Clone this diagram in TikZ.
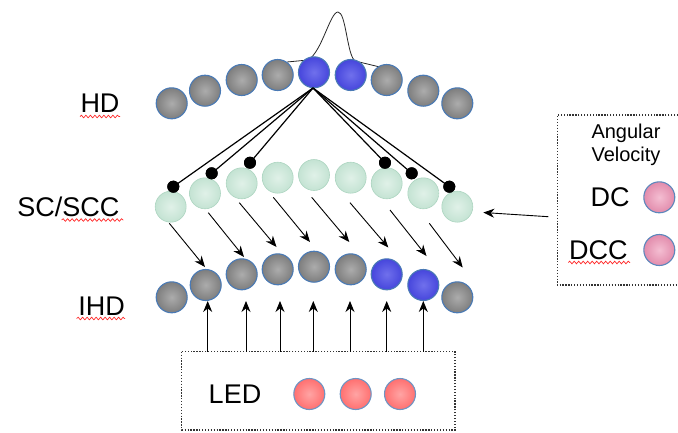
\documentclass[tikz,border=0pt]{standalone}
\usepackage{fontspec}
\setmainfont{Liberation Sans}
\usetikzlibrary{arrows.meta,decorations.pathmorphing}
\definecolor{rim}{HTML}{4A7AB5}
\definecolor{ga}{HTML}{ACACAC}\definecolor{gb}{HTML}{7E7E7E}\definecolor{gc}{HTML}{454545}
\definecolor{ba}{HTML}{7070EC}\definecolor{bb}{HTML}{4646DC}\definecolor{bc}{HTML}{1E1EBE}
\definecolor{ma}{HTML}{E0F1E8}\definecolor{mb}{HTML}{C4E3D3}\definecolor{mc}{HTML}{98CBB1}
\definecolor{ra}{HTML}{FFA4A4}\definecolor{rb}{HTML}{FF7070}\definecolor{rc}{HTML}{E43030}
\definecolor{pa}{HTML}{F4BED2}\definecolor{pb}{HTML}{E28CAC}\definecolor{pc}{HTML}{C25282}
\pgfdeclareradialshading{gsh}{\pgfpoint{0bp}{0bp}}{color(0bp)=(ga); color(25bp)=(gb); color(50bp)=(gc)}
\pgfdeclareradialshading{bsh}{\pgfpoint{0bp}{0bp}}{color(0bp)=(ba); color(25bp)=(bb); color(50bp)=(bc)}
\pgfdeclareradialshading{msh}{\pgfpoint{0bp}{0bp}}{color(0bp)=(ma); color(25bp)=(mb); color(50bp)=(mc)}
\pgfdeclareradialshading{rsh}{\pgfpoint{0bp}{0bp}}{color(0bp)=(ra); color(25bp)=(rb); color(50bp)=(rc)}
\pgfdeclareradialshading{psh}{\pgfpoint{0bp}{0bp}}{color(0bp)=(pa); color(25bp)=(pb); color(50bp)=(pc)}
\tikzset{
  ball/.style={circle,minimum size=31pt,inner sep=0pt},
  gball/.style={ball,draw=rim,line width=1.1pt,shade,shading=gsh},
  bball/.style={ball,draw=rim,line width=1.1pt,shade,shading=bsh},
  mball/.style={ball,draw=mc!80,line width=0.6pt,shade,shading=msh},
  rball/.style={ball,draw=rim!80,line width=1.1pt,shade,shading=rsh},
  pball/.style={ball,draw=rim!90,line width=1.1pt,shade,shading=psh},
  dotnode/.style={circle,fill=black,minimum size=12pt,inner sep=0pt},
  arr/.style={-{Stealth[length=11pt,width=9pt]},line width=0.9pt},
  dotbox/.style={draw=black!80,line width=1.1pt,dash pattern=on 1.3pt off 1.6pt},
  big/.style={font=\fontsize{27}{32}\selectfont,inner sep=0pt},
  small/.style={font=\fontsize{20}{23}\selectfont,inner sep=0pt,align=center},
  squig/.style={draw=red!85,line width=0.7pt,decorate,decoration={snake,amplitude=1.3pt,segment length=4.5pt}}
}
\begin{document}
\begin{tikzpicture}[x=1pt,y=-1pt]
\useasboundingbox (0,0) rectangle (678,432);
% gaussian bump (behind the HD row)
\draw[black!85,line width=0.8pt] (287,62) -- (308,60) .. controls (322,52) and (330,12) .. (338,12) .. controls (346,12) and (347,55) .. (355,61) -- (384,68);
% HD row
\node[gball] (h1) at (171.7,103.3) {};
\node[gball] (h2) at (205,90.7) {};
\node[gball] (h3) at (241.7,80) {};
\node[gball] (h4) at (277.7,75) {};
\node[bball] (h5) at (314,72.3) {};
\node[bball] (h6) at (350.7,75) {};
\node[gball] (h7) at (386.7,80) {};
\node[gball] (h8) at (423.3,90.7) {};
\node[gball] (h9) at (457.3,103.3) {};
\coordinate (hub) at (313,88);
% SC row
\node[mball] (s1) at (170.7,206.7) {};
\node[mball] (s2) at (205,193.3) {};
\node[mball] (s3) at (241.7,183.3) {};
\node[mball] (s4) at (277.7,177.7) {};
\node[mball] (s5) at (314,175) {};
\node[mball] (s6) at (350.7,177.7) {};
\node[mball] (s7) at (386.7,183.3) {};
\node[mball] (s8) at (423.3,193.3) {};
\node[mball] (s9) at (457.3,206.7) {};
% dots
\node[dotnode] (d1) at (173.3,186.7) {};
\node[dotnode] (d2) at (211.7,173.3) {};
\node[dotnode] (d3) at (250,162.7) {};
\node[dotnode] (d4) at (385,162.7) {};
\node[dotnode] (d5) at (411.7,173.3) {};
\node[dotnode] (d6) at (449.3,186.7) {};
\foreach \d in {d1,d2,d3,d4,d5,d6}{\draw[line width=1.2pt] (hub) -- (\d.center);}
\foreach \d in {d1,d2,d3,d4,d5,d6}{\node[dotnode] at (\d) {};}
% IHD row
\node[gball] (i1) at (171.7,297.3) {};
\node[gball] (i2) at (205.7,285) {};
\node[gball] (i3) at (241.7,274.3) {};
\node[gball] (i4) at (277.7,269.3) {};
\node[gball] (i5) at (314,266.7) {};
\node[gball] (i6) at (350.7,269.3) {};
\node[bball] (i7) at (386.7,274.3) {};
\node[bball] (i8) at (423.3,285) {};
\node[gball] (i9) at (457.3,297.3) {};
% diagonal arrows
\coordinate (a1s) at (169.3,223.3); \coordinate (a1e) at (205,267);
\coordinate (a2s) at (208.3,212.7); \coordinate (a2e) at (244,257);
\coordinate (a3s) at (239.3,202.7); \coordinate (a3e) at (276.5,247);
\coordinate (a4s) at (273.3,197.3); \coordinate (a4e) at (310,242);
\coordinate (a5s) at (311.7,197.3); \coordinate (a5e) at (349.3,242);
\coordinate (a6s) at (350,202.7); \coordinate (a6e) at (388.3,247.5);
\coordinate (a7s) at (390,210); \coordinate (a7e) at (426.5,256);
\coordinate (a8s) at (429.3,223.3); \coordinate (a8e) at (462.7,267.5);
\foreach \k in {1,...,8}{\draw[arr] (a\k s) -- (a\k e);}
% LED box
\draw[dotbox] (181.7,351.7) rectangle (455,430);
\node[big] (led) at (235,394) {LED};
\node[rball] (r1) at (309.3,394) {};
\node[rball] (r2) at (355.7,394) {};
\node[rball] (r3) at (400,394) {};
\foreach \x [count=\k] in {207.7,246,280,313.3,350,386.7,423.3}{
  \coordinate (u\k) at (\x,351.7);
  \coordinate (v\k) at (\x,301);
  \draw[arr] (u\k) -- (v\k);
}
% Angular velocity box
\draw[dotbox] (678,115) -- (557.3,115) -- (557.3,285) -- (678,285);
\node[small] (av) at (626,145) {Angular\\Velocity};
\node[big] (dc) at (610,197) {DC};
\node[pball] (p1) at (659.3,197.3) {};
\node[big] (dcc) at (598.3,250) {DCC};
\node[pball] (p2) at (659.3,250) {};
\coordinate (avin) at (548.3,216.7);
\coordinate (avout) at (483.3,212.5);
\draw[arr] (avin) -- (avout);
% labels
\node[big] (lhd) at (100,103) {HD};
\node[big] (lsc) at (68.3,206.7) {SC/SCC};
\node[big] (lihd) at (101.7,306.7) {IHD};
% spell-check underlines
\draw[squig] (80,116.5) -- (120,116.5);
\draw[squig] (61.7,220) -- (123.3,220);
\draw[squig] (76.7,318.5) -- (125,318.5);
\draw[squig] (568.3,262.5) -- (630,262.5);
\end{tikzpicture}
\end{document}
